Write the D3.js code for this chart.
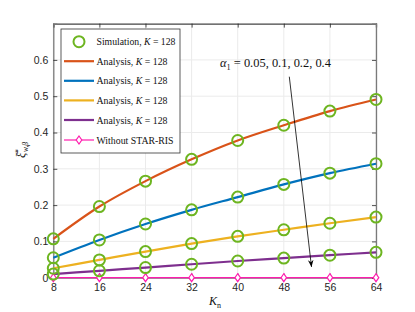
<!DOCTYPE html>
<html><head><meta charset="utf-8">
<script src="https://cdn.jsdelivr.net/npm/d3@7"></script>
<style>body{margin:0;background:#fff}svg{display:block}</style>
</head><body>
<svg id="c" width="415" height="312"></svg>
<script>
const Kn = [8, 16, 24, 32, 40, 48, 56, 64];
const alpha040 = [0.107, 0.196, 0.266, 0.326, 0.378, 0.420, 0.459, 0.491];
const alpha020 = [0.055, 0.104, 0.148, 0.187, 0.222, 0.257, 0.288, 0.314];
const alpha010 = [0.026, 0.049, 0.072, 0.094, 0.114, 0.132, 0.150, 0.167];
const alpha005 = [0.010, 0.019, 0.028, 0.037, 0.046, 0.054, 0.062, 0.070];
const withoutRIS = [0, 0, 0, 0, 0, 0, 0, 0];
const xTicks = [8, 16, 24, 32, 40, 48, 56, 64];
const yTicks = [0, 0.1, 0.2, 0.3, 0.4, 0.5, 0.6];
const legendLabels = ["Simulation, ", "Analysis, ", "Analysis, ", "Analysis, ", "Analysis, ", "Without STAR-RIS"];

const svg = d3.select("#c");
const L = 53.3, R = 376, T = 23.6, B = 277.7;
const x = d3.scaleLinear().domain([8, 64]).range([L, R]);
const y = d3.scaleLinear().domain([0, 0.7]).range([B, T]);

// grid
const g = svg.append("g");
g.selectAll(".gx").data(xTicks).join("line")
  .attr("x1", d => x(d)).attr("x2", d => x(d)).attr("y1", T).attr("y2", B)
  .attr("stroke", "#ebebeb").attr("stroke-width", 1);
g.selectAll(".gy").data(yTicks).join("line")
  .attr("x1", L).attr("x2", R).attr("y1", d => y(d)).attr("y2", d => y(d))
  .attr("stroke", "#ebebeb").attr("stroke-width", 1);

// axes
const axC = "#262626";
const xa = svg.append("g").attr("transform", `translate(0,${B})`)
  .call(d3.axisBottom(x).tickValues(xTicks).tickSize(-4).tickPadding(6).tickFormat(d3.format("d")));
const xt = svg.append("g").attr("transform", `translate(0,${T})`)
  .call(d3.axisTop(x).tickValues(xTicks).tickSize(-4).tickFormat(""));
const ya = svg.append("g").attr("transform", `translate(${L},0)`)
  .call(d3.axisLeft(y).tickValues(yTicks).tickSize(-4).tickPadding(5).tickFormat(d => d === 0 ? "0" : d3.format(".1f")(d)));
const yr = svg.append("g").attr("transform", `translate(${R},0)`)
  .call(d3.axisRight(y).tickValues(yTicks).tickSize(-4).tickFormat(""));
[xa, xt, ya, yr].forEach(a => {
  a.select(".domain").attr("stroke", "#7a7a7a").attr("stroke-width", 1.3);
  a.selectAll(".tick line").attr("stroke", axC).attr("stroke-width", 0.8);
  a.selectAll("text").attr("fill", axC).attr("font-family", "Liberation Sans, Arial, sans-serif").attr("font-size", 10.5);
});
xt.select(".domain").attr("stroke", "#444");

// lines
const series = [
  {v: alpha040, c: "#D95319"},
  {v: alpha020, c: "#0072BD"},
  {v: alpha010, c: "#EDB120"},
  {v: alpha005, c: "#7E2F8E"}
];
const line = d3.line().x((d, i) => x(Kn[i])).y(d => y(d)).curve(d3.curveMonotoneX);
series.forEach(s => {
  svg.append("path").attr("d", line(s.v)).attr("fill", "none").attr("stroke", s.c).attr("stroke-width", 2.2);
});
// without STAR-RIS
svg.append("path").attr("d", line(withoutRIS)).attr("fill", "none").attr("stroke", "#FF1CAE").attr("stroke-width", 1.2);
const diamond = (cx, cy, r) => `M${cx},${cy - r}L${cx + r * 0.7},${cy}L${cx},${cy + r}L${cx - r * 0.7},${cy}Z`;
svg.selectAll(".dm").data(withoutRIS).join("path")
  .attr("d", (d, i) => diamond(x(Kn[i]), y(d), 4))
  .attr("fill", "#fff").attr("stroke", "#FF1CAE").attr("stroke-width", 1.2);

// simulation circles
series.forEach(s => {
  svg.append("g").selectAll("circle").data(s.v).join("circle")
    .attr("cx", (d, i) => x(Kn[i])).attr("cy", d => y(d)).attr("r", 5.5)
    .attr("fill", "none").attr("stroke", "#6DB520").attr("stroke-width", 2);
});

// stretch a text group horizontally to a target width
function fitWidth(sel, x0, y0, target) {
  const w = sel.node().getBBox().width;
  sel.attr("transform", `translate(${x0},${y0}) scale(${target / w},1)`);
}

// annotation arrow
svg.append("defs").append("marker").attr("id", "ah").attr("viewBox", "0 0 10 10")
  .attr("refX", 10).attr("refY", 5).attr("markerWidth", 7).attr("markerHeight", 7)
  .attr("orient", "auto").attr("markerUnits", "userSpaceOnUse")
  .append("path").attr("d", "M0,1L10,5L0,9L3,5Z").attr("fill", "#000");
svg.append("line").attr("x1", 289.3).attr("y1", 76.7).attr("x2", 311.5).attr("y2", 267)
  .attr("stroke", "#000").attr("stroke-width", 0.8).attr("marker-end", "url(#ah)");
const an = svg.append("text").attr("x", 0).attr("y", 0)
  .attr("font-family", "Liberation Serif, DejaVu Serif, serif").attr("font-size", 12).attr("fill", "#111");
an.append("tspan").attr("font-style", "italic").text("α");
an.append("tspan").attr("font-size", 8).attr("dy", 2.5).text("1");
an.append("tspan").attr("dy", -2.5).text(" = 0.05, 0.1, 0.2, 0.4");
fitWidth(an, 220, 67, 111);

// legend
const lg = svg.append("g");
lg.append("rect").attr("x", 61).attr("y", 29).attr("width", 119).attr("height", 124)
  .attr("fill", "#fff").attr("stroke", "#333").attr("stroke-width", 0.8);
const rowsY = [41.7, 61.2, 80.8, 100.4, 120, 140];
const legColors = ["#6DB520", "#D95319", "#0072BD", "#EDB120", "#7E2F8E", "#FF1CAE"];
const legWidths = [79, 71, 71, 71, 71, 77.3];
legendLabels.forEach((lab, i) => {
  const yy = rowsY[i];
  if (i === 0) {
    lg.append("circle").attr("cx", 79).attr("cy", yy).attr("r", 5.5).attr("fill", "none")
      .attr("stroke", legColors[0]).attr("stroke-width", 2);
  } else if (i < 5) {
    lg.append("line").attr("x1", 64).attr("x2", 94).attr("y1", yy).attr("y2", yy)
      .attr("stroke", legColors[i]).attr("stroke-width", 2.2);
  } else {
    lg.append("line").attr("x1", 64).attr("x2", 94).attr("y1", yy).attr("y2", yy)
      .attr("stroke", legColors[i]).attr("stroke-width", 1.2);
    lg.append("path").attr("d", diamond(79, yy, 4)).attr("fill", "#fff").attr("stroke", legColors[i]).attr("stroke-width", 1.2);
  }
  const t = lg.append("text").attr("x", 0).attr("y", 0)
    .attr("font-family", "Liberation Serif, DejaVu Serif, serif").attr("font-size", 10.5).attr("fill", "#111");
  t.append("tspan").text(lab);
  if (i < 5) {
    t.append("tspan").attr("font-style", "italic").text("K");
    t.append("tspan").text(" = 128");
  }
  fitWidth(t, 96.5, yy + 3.6, legWidths[i]);
});

// axis labels
const xl = svg.append("text").attr("x", 215).attr("y", 305).attr("text-anchor", "middle")
  .attr("font-family", "Liberation Serif, DejaVu Serif, serif").attr("font-size", 12).attr("fill", "#111");
xl.append("tspan").attr("font-style", "italic").text("K");
xl.append("tspan").attr("font-size", 8).attr("dy", 2.5).text("n");

const yl = svg.append("text").attr("transform", "translate(25,150) rotate(-90)").attr("text-anchor", "middle")
  .attr("font-family", "Liberation Serif, DejaVu Serif, serif").attr("font-size", 12).attr("fill", "#111");
yl.append("tspan").attr("font-style", "italic").text("ξ\u0304");
yl.append("tspan").attr("font-size", 8).attr("dy", -4).text("*");
yl.append("tspan").attr("font-size", 7.5).attr("dx", -3).attr("dy", 7).attr("font-style", "italic").text("w,β");
</script>
</body></html>
